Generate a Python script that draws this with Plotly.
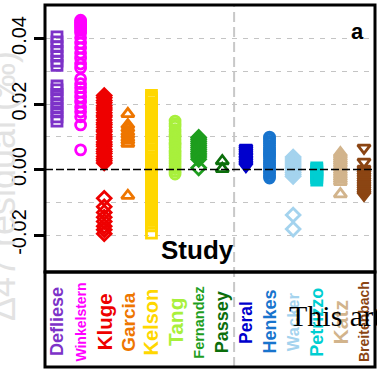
import plotly.graph_objects as go

# Study names, in plotting order
studies = ["Defliese", "Winkelstern", "Kluge", "Garcia", "Kelson", "Tang", "Fernandez",
           "Passey", "Peral", "Henkes", "Wacker", "Petrizzo", "Katz", "Breitenbach"]

colors = ["#7D32C8", "#FF00FF", "#EE0000", "#EE7600", "#FFD700", "#A8F03C", "#1E9E1E",
          "#0B6E0B", "#0000CD", "#1874CD", "#A4D3EE", "#00CED1", "#D2B48C", "#8B4513"]

symbols = ["square-open", "circle-open", "diamond-open", "triangle-up-open", "square-open",
           "circle-open", "diamond-open", "triangle-up-open", "triangle-down-open", "circle-open",
           "diamond-open", "square-open", "triangle-up-open", "triangle-down-open"]

label_sizes = [18, 14, 20.5, 19, 20, 21, 14.5, 18, 17.5, 18, 16.5, 18, 21, 14]

# Residuals per study
defliese = [0.0405, 0.0390, 0.0375, 0.0361, 0.0346, 0.0331, 0.0318,
            0.0255, 0.0243, 0.0229, 0.0216, 0.0201, 0.0188, 0.0176, 0.0161, 0.0148]
winkelstern = [0.0456, 0.0450, 0.0444, 0.0438, 0.0432, 0.0425, 0.0417, 0.0402, 0.0386,
               0.0371, 0.0355, 0.0340, 0.0322, 0.0310, 0.0277, 0.0262, 0.0250, 0.0236,
               0.0221, 0.0206, 0.0190, 0.0176, 0.0161, 0.0136, 0.0060]
kluge = [0.0226, 0.0219, 0.0211, 0.0204, 0.0195, 0.0188, 0.0182, 0.0173, 0.0166, 0.0160,
         0.0151, 0.0143, 0.0137, 0.0129, 0.0121, 0.0115, 0.0106, 0.0099, 0.0093, 0.0084,
         0.0077, 0.0071, 0.0062, 0.0055, 0.0049, 0.0040, 0.0033, 0.0027, 0.0020,
         -0.0088, -0.0114, -0.0131, -0.0146, -0.0159, -0.0173, -0.0184, -0.0196]
garcia = [0.0170, 0.0136, 0.0126, 0.0114, 0.0106, 0.0096, 0.0088, 0.0079, -0.0080]
kelson = [0.0226, 0.0219, 0.0212, 0.0203, 0.0197, 0.0188, 0.0180, 0.0171, 0.0164, 0.0155,
          0.0147, 0.0139, 0.0131, 0.0123, 0.0114, 0.0106, 0.0098, 0.0089, 0.0081, 0.0068,
          0.0055, 0.0046, 0.0038, 0.0030, 0.0021, 0.0013, 0.0005, -0.0004, -0.0012,
          -0.0021, -0.0029, -0.0037, -0.0046, -0.0054, -0.0062, -0.0071, -0.0079, -0.0088,
          -0.0096, -0.0105, -0.0113, -0.0121, -0.0130, -0.0138, -0.0147, -0.0155, -0.0163,
          -0.0172, -0.0194]
tang = [0.0148, 0.0140, 0.0132, 0.0122, 0.0115, 0.0107, 0.0099, 0.0091, 0.0082, 0.0075,
        0.0067, 0.0058, 0.0050, 0.0043, 0.0034, 0.0027, 0.0019, 0.0010, 0.0003, -0.0006,
        -0.0014]
fernandez = [0.0098, 0.0092, 0.0086, 0.0080, 0.0074, 0.0068, 0.0062, 0.0056, 0.0050,
             0.0044, 0.0038, 0.0031, 0.0005]
passey = [0.0026, 0.0002]
peral = [0.0066, 0.0061, 0.0055, 0.0050, 0.0044, 0.0040, 0.0034, 0.0029, 0.0024, 0.0019,
         0.0014, 0.0010]
henkes = [0.0099, 0.0093, 0.0086, 0.0080, 0.0073, 0.0066, 0.0061, 0.0053, 0.0047, 0.0041,
          0.0034, 0.0027, 0.0021, 0.0014, 0.0008, 0.0001, -0.0006, -0.0012, -0.0019, -0.0026]
wacker = [0.0038, 0.0032, 0.0026, 0.0020, 0.0014, 0.0008, 0.0002, -0.0004, -0.0010,
          -0.0016, -0.0021, -0.0139, -0.0182]
petrizzo = [0.0005, 0.0000, -0.0005, -0.0010, -0.0015, -0.0020, -0.0025, -0.0032]
katz = [0.0050, 0.0044, 0.0037, 0.0030, 0.0024, 0.0017, 0.0010, 0.0004, -0.0003, -0.0010,
        -0.0017, -0.0024, -0.0031, -0.0038, -0.0075]
breitenbach = [0.0066, 0.0023, 0.0002, -0.0005, -0.0012, -0.0019, -0.0026, -0.0033, -0.0040,
               -0.0047, -0.0054, -0.0061, -0.0068, -0.0074, -0.0078]

study_values = [defliese, winkelstern, kluge, garcia, kelson, tang, fernandez, passey,
                peral, henkes, wacker, petrizzo, katz, breitenbach]

y_ticks = [-0.02, 0.00, 0.02, 0.04]
y_tick_text = ["-0.02", "0.00", "0.02", "0.04"]
y_minor = [-0.01, 0.01, 0.03]

marker_sizes = {"square-open": 10, "circle-open": 10, "diamond-open": 10.5,
                "triangle-up-open": 11, "triangle-down-open": 11}

panel_split = 0.2624   # bottom of the data panel, in paper units
group_divider = 8.5    # between Passey and Peral

fig = go.Figure()
for i, (name, vals) in enumerate(zip(studies, study_values)):
    fig.add_trace(go.Scatter(
        x=[i + 1] * len(vals), y=vals, mode="markers", name=name, showlegend=False,
        marker=dict(symbol=symbols[i], size=marker_sizes[symbols[i]], color=colors[i],
                    line=dict(width=2.8, color=colors[i])),
    ))

annotations = []
for i, name in enumerate(studies):
    annotations.append(dict(
        x=i + 1, xref="x", y=0.1243, yref="paper", text=name, showarrow=False,
        textangle=-90, xanchor="center", yanchor="middle",
        font=dict(family="Liberation Sans, Arial", size=label_sizes[i], color=colors[i],
                  weight="bold"),
    ))

annotations += [
    dict(x=0.4636, xref="paper", y=0.323, yref="paper", text="Study", showarrow=False,
         xanchor="center", yanchor="middle",
         font=dict(family="Liberation Sans, Arial", size=26, color="black", weight="bold")),
    dict(x=0.948, xref="paper", y=0.927, yref="paper", text="a", showarrow=False,
         xanchor="center", yanchor="middle",
         font=dict(family="Liberation Sans, Arial", size=22, color="black", weight="bold")),
    dict(x=-0.13, xref="paper", y=0.5, yref="paper", text="Δ47 residual (‰)",
         showarrow=False, textangle=-90, xanchor="center", yanchor="middle",
         font=dict(family="Liberation Sans, Arial", size=36, color="#E2E2E2")),
    dict(x=0.732, xref="paper", y=0.141, yref="paper", text="This article",
         showarrow=False, xanchor="left", yanchor="middle",
         font=dict(family="Liberation Serif, Times New Roman", size=30, color="black")),
]

shapes = [
    dict(type="line", xref="x", yref="paper", x0=group_divider, x1=group_divider, y0=0, y1=1,
         line=dict(color="#C8C8C8", width=2, dash="10px,5px"), layer="below"),
    dict(type="line", xref="paper", yref="y", x0=0, x1=1, y0=0, y1=0,
         line=dict(color="black", width=1.6, dash="8px,3px"), layer="above"),
    dict(type="rect", xref="paper", yref="paper", x0=0, x1=1, y0=panel_split, y1=1,
         line=dict(color="black", width=3), layer="above"),
    dict(type="rect", xref="paper", yref="paper", x0=0, x1=1, y0=0, y1=panel_split,
         line=dict(color="black", width=3), layer="above"),
]

fig.update_layout(
    width=377, height=372,
    margin=dict(l=45, r=2, t=5, b=5),
    paper_bgcolor="white", plot_bgcolor="white",
    xaxis=dict(range=[0.492, 14.466], showgrid=False, showticklabels=False,
               zeroline=False, showline=False, ticks=""),
    yaxis=dict(domain=[panel_split, 1], range=[-0.0313, 0.05023],
               tickvals=y_ticks, ticktext=y_tick_text, tickangle=-90,
               ticks="outside", ticklen=10, tickwidth=2.5, tickcolor="black",
               tickfont=dict(family="Liberation Sans, Arial", size=20, color="black"),
               showgrid=True, gridcolor="#C4C4C4", gridwidth=1.3, griddash="5px,6px",
               zeroline=False, showline=False,
               minor=dict(tickvals=y_minor, showgrid=True, gridcolor="#C4C4C4",
                          gridwidth=1.3, griddash="5px,6px", ticks="")),
    annotations=annotations,
    shapes=shapes,
)

fig.write_html("out.html")
